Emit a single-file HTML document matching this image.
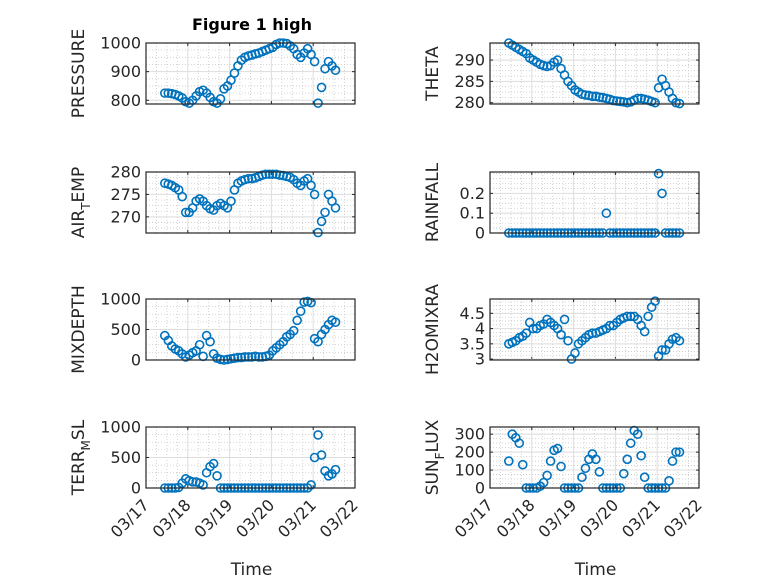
<!DOCTYPE html>
<html><head><meta charset="utf-8"><style>
html,body{margin:0;padding:0;background:#fff;}
svg{display:block;font-family:"DejaVu Sans","Liberation Sans",sans-serif;}
</style></head><body>
<svg id="fig" width="778" height="583" viewBox="0 0 778 583" xmlns="http://www.w3.org/2000/svg">
<rect width="778" height="583" fill="#fff"/>
<text x="252" y="30" text-anchor="middle" font-size="16" font-weight="bold" fill="#000">Figure 1 high</text>
</svg>
<script>
// time grid: day-of-month (March), 2 hour step
const tStart = 17.45;
const tStep = 1/12;
const dayTicks = [17,18,19,20,21,22];
const dayLabels = ['03/17','03/18','03/19','03/20','03/21','03/22'];

const pressure = [825,825,823,820,815,808, 795,790,800,815,830,835, 825,810,795,790,805,840, 850,870,895,920,940,950, 955,958,962,965,970,975, 980,985,995,1000,1000,998, 990,980,960,950,965,980, 960,935,790,845,910,935,920,905];
const theta = [294,293.5,293,292.5,292,291.5, 290.5,290,289.5,289,288.7,288.5, 288.7,289.5,290,288,286.5,285, 284,283,282.5,282,281.8,281.7, 281.5,281.5,281.3,281.2,281,280.8, 280.5,280.4,280.3,280.2,280,280.2, 280.6,281,281,280.8,280.6,280.3, 280,283.5,285.5,284,282.5,281,280,279.8];
const airTemp = [277.5,277.3,277,276.5,276,274.5, 271,271,272,273.5,274,273.5, 272.5,271.8,271.5,272.5,273,272.5, 272,273.5,276,277.5,278,278.3, 278.5,278.5,278.7,279,279.3,279.5, 279.5,279.5,279.5,279.3,279.2,279, 278.8,278.3,277.5,277,278,278.5, 277,275,266.5,269,271,275,273.5,272];
const rainfall = [0,0,0,0,0,0, 0,0,0,0,0,0, 0,0,0,0,0,0, 0,0,0,0,0,0, 0,0,0,0,0.1,0, 0,0,0,0,0,0, 0,0,0,0,0,0, 0,0.3,0.2,0,0,0,0,0];
const mixDepth = [400,320,230,180,150,100, 50,80,120,150,250,60, 400,300,100,30,10,0, 10,20,30,40,40,50, 50,50,60,50,50,60, 80,150,200,250,300,380, 420,480,650,800,950,960, 940,350,300,420,500,580,650,620];
const h2oMix = [3.5,3.55,3.6,3.7,3.75,3.85, 4.2,4.0,4.0,4.1,4.15,4.3, 4.2,4.1,4.0,3.8,4.3,3.6, 3.0,3.2,3.5,3.6,3.7,3.8, 3.85,3.85,3.9,3.95,4.0,4.1, 4.1,4.2,4.3,4.35,4.4,4.4, 4.4,4.3,4.1,3.9,4.4,4.7, 4.9,3.1,3.3,3.3,3.5,3.65,3.7,3.6];
const terrMsl = [0,0,0,0,10,80, 150,120,100,100,80,50, 250,350,400,200,0,0, 0,0,0,0,0,0, 0,0,0,0,0,0, 0,0,0,0,0,0, 0,0,0,0,0,0, 50,500,870,540,280,200,230,300];
const sunFlux = [150,300,280,250,130,0, 0,0,0,10,30,70, 150,210,220,120,0,0, 0,0,0,60,110,160, 190,160,90,0,0,0, 0,0,0,80,160,250, 320,300,180,60,0,0, 0,0,0,0,40,150,200,200];

const pressureTicks=[800,900,1000], thetaTicks=[280,285,290], airTicks=[270,275,280], rainTicks=[0,0.1,0.2], mixTicks=[0,500,1000], h2oTicks=[3,3.5,4,4.5], terrTicks=[0,500,1000], sunTicks=[0,100,200,300];

const NS='http://www.w3.org/2000/svg';
const svg=document.getElementById('fig');
function mk(tag,attrs,parent){const e=document.createElementNS(NS,tag);for(const k in attrs)e.setAttribute(k,attrs[k]);(parent||svg).appendChild(e);return e;}

const panels=[
 {key:'pressure',data:pressure,ticks:pressureTicks,ylim:[787,1000],minor:25,col:0,row:0,label:['PRESSURE']},
 {key:'theta',data:theta,ticks:thetaTicks,ylim:[279.7,294],minor:1.25,col:1,row:0,label:['THETA']},
 {key:'air-temp',data:airTemp,ticks:airTicks,ylim:[266.4,280],minor:1.25,col:0,row:1,label:['AIR','T','EMP']},
 {key:'rainfall',data:rainfall,ticks:rainTicks,ylim:[0,0.308],minor:0.025,col:1,row:1,label:['RAINFALL']},
 {key:'mixdepth',data:mixDepth,ticks:mixTicks,ylim:[0,1000],minor:125,col:0,row:2,label:['MIXDEPTH']},
 {key:'h2omixra',data:h2oMix,ticks:h2oTicks,ylim:[2.97,4.97],minor:0.125,col:1,row:2,label:['H2OMIXRA']},
 {key:'terr-msl',data:terrMsl,ticks:terrTicks,ylim:[0,1000],minor:125,col:0,row:3,label:['TERR','M','SL']},
 {key:'sun-flux',data:sunFlux,ticks:sunTicks,ylim:[0,340],minor:25,col:1,row:3,label:['SUN','F','LUX']}
];
const colX=[146,490], colW=209, rowY=[43,172,299,427], rowH=61, ylabX=[84,438];

panels.forEach(p=>{
  const x0=colX[p.col], y0=rowY[p.row];
  const g=mk('g',{});
  
  
  const xs=t=>x0+(t-dayTicks[0])/(dayTicks[dayTicks.length-1]-dayTicks[0])*colW;
  const ys=v=>y0+rowH-(v-p.ylim[0])/(p.ylim[1]-p.ylim[0])*rowH;
  mk('rect',{x:x0,y:y0,width:colW,height:rowH,fill:'#fff'},g);
  for(let d=dayTicks[0];d<dayTicks[dayTicks.length-1];d+=0.25){ if(Math.abs(d-Math.round(d))<1e-6)continue; const x=xs(d); mk('line',{x1:x,x2:x,y1:y0,y2:y0+rowH,stroke:'#c8c8c8','stroke-width':0.8,'stroke-dasharray':'1 2'},g);}
  const mstart=Math.ceil(p.ylim[0]/p.minor)*p.minor;
  for(let v=mstart;v<=p.ylim[1];v+=p.minor){ const y=ys(v); mk('line',{x1:x0,x2:x0+colW,y1:y,y2:y,stroke:'#c8c8c8','stroke-width':0.8,'stroke-dasharray':'1 2'},g);}
  dayTicks.forEach(d=>{const x=xs(d); mk('line',{x1:x,x2:x,y1:y0,y2:y0+rowH,stroke:'#dedede','stroke-width':1},g); mk('line',{x1:x,x2:x,y1:y0+rowH,y2:y0+rowH-3,stroke:'#262626'},g); mk('line',{x1:x,x2:x,y1:y0,y2:y0+3,stroke:'#262626'},g);});
  p.ticks.forEach(v=>{const y=ys(v); mk('line',{x1:x0,x2:x0+colW,y1:y,y2:y,stroke:'#dedede','stroke-width':1},g); mk('line',{x1:x0,x2:x0+3,y1:y,y2:y,stroke:'#262626'},g); mk('line',{x1:x0+colW,x2:x0+colW-3,y1:y,y2:y,stroke:'#262626'},g);
    const tl=mk('text',{x:x0-5,y:y+5.5,'text-anchor':'end','font-size':16,fill:'#262626'},g); tl.textContent=String(v);
    
    
  });
  p.data.forEach((v,i)=>{
    const c=mk('circle',{cx:xs(tStart+i*tStep),cy:ys(v),r:4,fill:'none',stroke:'#0072BD','stroke-width':1.6},g);
    
    
  });
  mk('rect',{x:x0,y:y0,width:colW,height:rowH,fill:'none',stroke:'#262626','stroke-width':1.2},g);
  const cy=y0+rowH/2;
  const lab=mk('text',{x:ylabX[p.col],y:cy,'text-anchor':'middle','font-size':17,fill:'#262626',transform:`rotate(-90 ${ylabX[p.col]} ${cy})`},g);
  
  
  if(p.label.length===1){lab.textContent=p.label[0];}
  else{
    const a=mk('tspan',{},lab);a.textContent=p.label[0];
    const b=mk('tspan',{dy:6,'font-size':12},lab);b.textContent=p.label[1];
    const c=mk('tspan',{dy:-6},lab);c.textContent=p.label[2];
  }
  if(p.row===3){
    dayTicks.forEach((d,i)=>{const x=xs(d), y=y0+rowH+10;
      const t=mk('text',{x:x+4,y:y+8,'text-anchor':'end','font-size':16,fill:'#262626',transform:`rotate(-45 ${x+4} ${y+8})`},g);
      t.textContent=dayLabels[i];
      
      
    });
    const xt=mk('text',{x:x0+colW/2+1,y:575,'text-anchor':'middle','font-size':17,fill:'#262626'},g);
    xt.textContent='Time';
    
    
  }
});
</script>
</body></html>
